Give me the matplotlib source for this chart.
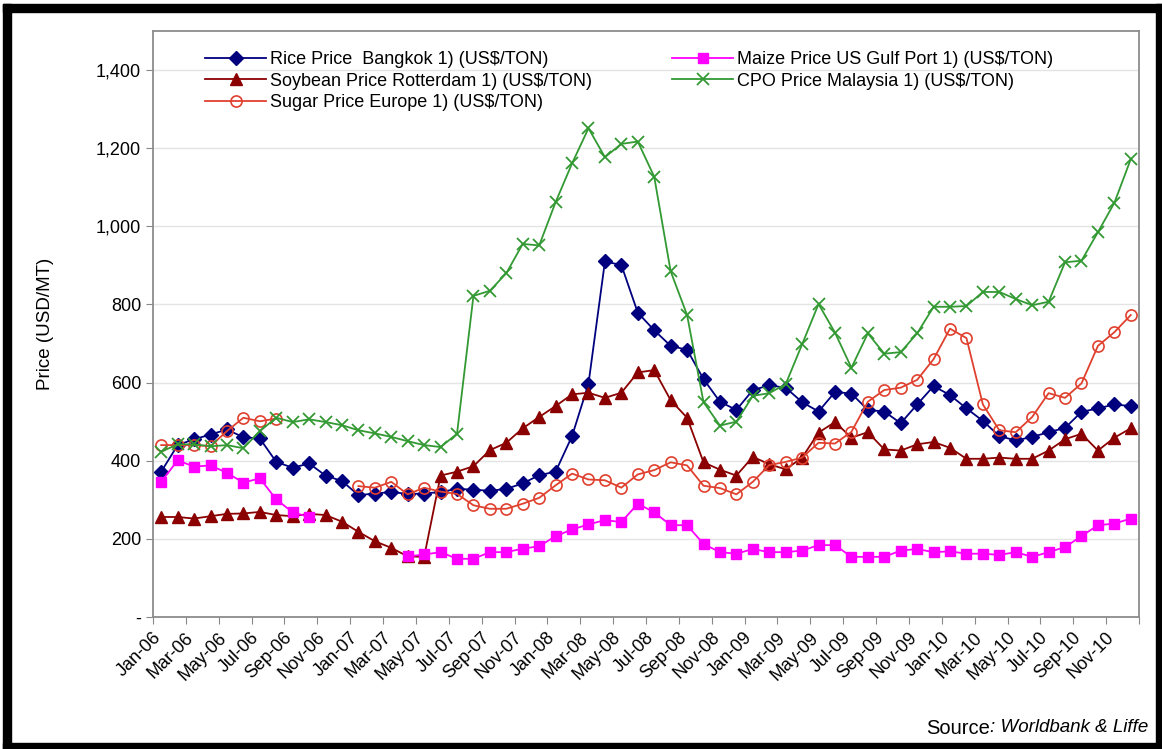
import numpy as np
import pandas as pd
import matplotlib
matplotlib.use("Agg")
import matplotlib.pyplot as plt
from matplotlib.patches import Rectangle
from matplotlib.transforms import ScaledTranslation

plt.rcParams["font.family"] = ["Liberation Sans", "DejaVu Sans"]

# ---- data (US$/ton, monthly Jan-06 .. Dec-10) ----
months = [d.strftime("%b-%y") for d in pd.date_range("2006-01-01", periods=60, freq="MS")]
nan = np.nan

rice = [372, 440, 455, 467, 480, 460, 457, 397, 382, 393,
        362, 348, 312, 316, 320, 315, 316, 320, 328, 326,
        323, 328, 342, 363, 372, 463, 597, 910, 901, 779,
        734, 694, 684, 609, 551, 530, 581, 593, 587, 550,
        526, 576, 572, 530, 526, 496, 544, 591, 568, 534,
        502, 463, 452, 461, 473, 484, 525, 534, 544, 540]
maize = [346, 401, 385, 388, 369, 344, 355, 301, 268, 256,
         nan, nan, nan, nan, nan, 155, 160, 166, 149, 149,
         166, 166, 175, 181, 207, 224, 237, 248, 243, 290,
         268, 235, 235, 187, 166, 162, 174, 166, 166, 170,
         184, 184, 154, 154, 154, 170, 174, 166, 168, 162,
         162, 159, 166, 154, 166, 179, 207, 235, 239, 252]
soybean = [256, 256, 252, 258, 264, 265, 269, 261, 258, 264,
           261, 244, 218, 194, 177, 155, 154, 362, 372, 386,
           427, 446, 483, 512, 540, 570, 574, 561, 574, 626,
           632, 555, 510, 396, 377, 362, 410, 391, 378, 408,
           472, 499, 459, 473, 429, 426, 442, 448, 433, 405,
           405, 408, 405, 405, 426, 455, 469, 426, 459, 483]
cpo = [423, 442, 442, 437, 440, 432, 476, 510, 499, 506,
       499, 491, 478, 470, 461, 450, 440, 435, 469, 822,
       835, 880, 955, 951, 1062, 1161, 1251, 1177, 1211, 1217,
       1127, 885, 773, 550, 490, 500, 566, 573, 596, 698,
       801, 728, 638, 726, 674, 678, 726, 794, 794, 796,
       832, 832, 814, 798, 807, 908, 912, 985, 1060, 1172]
sugar = [440, 440, 440, 437, 476, 510, 501, 508, nan, nan,
         nan, nan, 335, 331, 346, 314, 331, 321, 315, 286,
         277, 277, 290, 305, 337, 367, 352, 350, 331, 365,
         376, 396, 388, 336, 330, 314, 346, 389, 397, 408,
         446, 444, 474, 551, 581, 587, 607, 660, 738, 714,
         544, 478, 473, 512, 573, 561, 598, 694, 729, 773]

y_ticks = [0, 200, 400, 600, 800, 1000, 1200, 1400]
y_tick_labels = ["-", "200", "400", "600", "800", "1,000", "1,200", "1,400"]

W, H = 1162, 749
fig = plt.figure(figsize=(W / 100, H / 100), dpi=100)
ax = fig.add_axes([153 / W, 1 - 617 / H, (1139 - 153) / W, (617 - 31) / H])

x = np.arange(len(months))
series = [
    ("Rice Price  Bangkok 1) (US$/TON)", rice, "#00007F", dict(marker="D", ms=7, mfc="#00007F")),
    ("Soybean Price Rotterdam 1) (US$/TON)", soybean, "#8B0000", dict(marker="^", ms=9, mfc="#8B0000")),
    ("Sugar Price Europe 1) (US$/TON)", sugar, "#E0402E", dict(marker="o", ms=8, mfc="none", mew=1.2)),
    ("Maize Price US Gulf Port 1) (US$/TON)", maize, "#FF00FF", dict(marker="s", ms=7.5, mfc="#FF00FF")),
    ("CPO Price Malaysia 1) (US$/TON)", cpo, "#339933", dict(marker="x", ms=8.5, mew=1.3)),
]
handles = []
for lbl, vals, col, kw in series:
    h, = ax.plot(x, vals, color=col, lw=1.3, mec=col, label=lbl, **kw)
    handles.append(h)

ax.set_xlim(-0.5, len(months) - 0.5)
ax.set_ylim(0, 1500)
ax.set_yticks(y_ticks)
ax.set_yticklabels(y_tick_labels, fontsize=13)
ax.yaxis.grid(True, color="#E4E4E4", lw=1)
ax.set_axisbelow(True)
ax.set_ylabel("Price (USD/MT)", fontsize=13.5, labelpad=30)

ax.set_xticks(np.arange(-0.5, len(months), 2))
ax.set_xticklabels([])
ax.set_xticks(x[::2], minor=True)
ax.set_xticklabels(months[::2], minor=True, rotation=45, ha="right",
                   va="center", rotation_mode="anchor", fontsize=13)
ax.tick_params(axis="x", which="minor", length=0, pad=13)
ax.tick_params(axis="both", which="major", length=5, color="#888888")
off = ScaledTranslation(-3 / 100, 0, fig.dpi_scale_trans)
for t in ax.get_xticklabels(minor=True):
    t.set_transform(t.get_transform() + off)

for s in ax.spines.values():
    s.set_color("#8C8C8C")
    s.set_linewidth(1.3)

leg_kw = dict(loc="upper left", bbox_transform=fig.transFigure, frameon=False, fontsize=13,
              handlelength=3.4, handletextpad=0.2, labelspacing=0.25, borderpad=0,
              borderaxespad=0, numpoints=1)
leg1 = ax.legend(handles=handles[:3], bbox_to_anchor=(205 / W, 1 - 51 / H), **leg_kw)
ax.add_artist(leg1)
ax.legend(handles=handles[3:], bbox_to_anchor=(672 / W, 1 - 51 / H), **leg_kw)

# source note, plain + italic parts
src2 = fig.text(1148 / W, 1 - 728 / H, ": Worldbank & Liffe", ha="right", va="center",
                fontsize=13.5, style="italic")
fig.canvas.draw()
bb = src2.get_window_extent()
fig.text(bb.x0 / W, 1 - 728 / H, "Source", ha="right", va="center", fontsize=14.5)

# black frame around the picture
for (x0, y0, w, h) in [(3, 4, 1159, 8), (3, 4, 8, 745), (1156, 4, 6, 745), (3, 743, 1159, 6)]:
    fig.patches.append(Rectangle((x0 / W, 1 - (y0 + h) / H), w / W, h / H,
                                 transform=fig.transFigure, color="black", zorder=10))

fig.savefig("out.png", dpi=100)
